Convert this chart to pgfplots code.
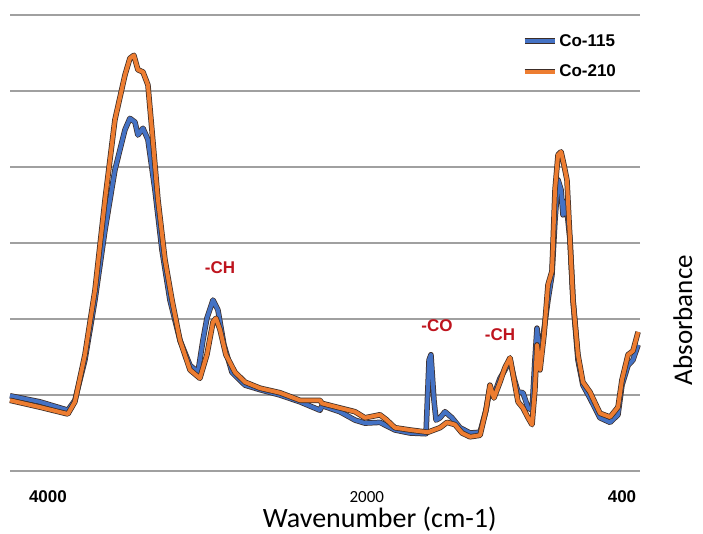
\documentclass[border=0pt]{standalone}
\usepackage{pgfplots}
\pgfplotsset{compat=1.18}
\usepackage{fontspec}
\setmainfont{Liberation Sans}
\newfontfamily\carlito{Carlito}
\definecolor{coblue}{RGB}{68,114,196}
\definecolor{coorange}{RGB}{237,125,49}
\definecolor{peakred}{RGB}{190,20,30}
\definecolor{gridgray}{RGB}{160,160,160}
\definecolor{edge}{RGB}{60,45,40}

\begin{document}
\begin{tikzpicture}
\path (-10pt,-62pt) rectangle (693pt,471pt);
\begin{axis}[
    at={(0pt,0pt)}, anchor=south west,
    scale only axis,
    width=630pt, height=456pt,
    x dir=reverse,
    xmin=287, xmax=4238,
    ymin=0, ymax=0.6,
    axis line style={draw=none},
    ytick={0,0.1,0.2,0.3,0.4,0.5,0.6},
    yticklabels={},
    ymajorgrids,
    grid style={gridgray, line width=1.3pt},
    major tick length=0pt,
    xtick={400,2000,4000},
    xticklabels={\textbf{400},{\carlito 2000},\textbf{4000}},
    xticklabel style={anchor=center, inner sep=0pt, yshift=-26pt, font=\fontsize{17}{19}\selectfont},
    xlabel={Wavenumber (cm-1)},
    xlabel style={at={(axis description cs:0.587,-0.123)}, anchor=base, inner sep=0pt, font=\carlito\fontsize{28}{30}\selectfont},
    ylabel={Absorbance},
    ylabel style={at={(axis description cs:1.068,0.331)}, anchor=center, inner sep=0pt, rotate=0, font=\carlito\fontsize{27}{29}\selectfont},
    legend style={at={(axis description cs:0.812,0.962)}, anchor=north west, draw=none, fill=none,
        font=\bfseries\fontsize{17}{19}\selectfont, row sep=13pt, inner sep=0pt},
    legend cell align=left,
    legend image code/.code={\draw[#1, line width=4pt] (0pt,0pt) -- (30pt,0pt);},
    clip=false,
]
\addplot[coblue, line width=4pt, line join=round, preaction={draw=edge, line width=5.5pt}] coordinates {
(4238,0.099) (4050,0.091) (3875,0.080) (3831,0.093) (3768,0.146) (3705,0.225)
(3642,0.317) (3580,0.396) (3517,0.449) (3486,0.464) (3454,0.459) (3436,0.442)
(3404,0.451) (3373,0.436) (3329,0.370) (3285,0.291) (3235,0.225) (3172,0.172)
(3109,0.139) (3059,0.130) (3028,0.172) (3003,0.201) (2965,0.225) (2934,0.212)
(2896,0.166) (2846,0.130) (2764,0.113) (2670,0.107) (2545,0.100) (2419,0.091)
(2294,0.080) (2281,0.086) (2169,0.078) (2074,0.067) (2012,0.063) (1918,0.064)
(1824,0.054) (1730,0.050) (1629,0.049) (1610,0.146) (1598,0.153) (1579,0.093)
(1566,0.067) (1541,0.070) (1510,0.078) (1466,0.070) (1416,0.057) (1353,0.050)
(1290,0.051) (1253,0.080) (1228,0.109) (1203,0.100) (1165,0.122) (1134,0.133)
(1102,0.146) (1077,0.122) (1052,0.104) (1021,0.103) (989,0.083) (964,0.080)
(946,0.146) (933,0.188) (914,0.146) (889,0.186) (864,0.225) (839,0.258)
(820,0.330) (801,0.383) (782,0.370) (770,0.337) (751,0.355) (726,0.304)
(707,0.225) (676,0.146) (645,0.113) (601,0.096) (538,0.070) (475,0.064)
(425,0.074) (400,0.113) (362,0.139) (331,0.146) (299,0.166)
};
\addlegendentry{Co-115}
\addplot[coorange, line width=4pt, line join=round, preaction={draw=edge, line width=5.5pt}] coordinates {
(4238,0.093) (4050,0.084) (3875,0.075) (3831,0.091) (3768,0.153) (3705,0.238)
(3642,0.357) (3580,0.462) (3517,0.521) (3486,0.543) (3461,0.547) (3436,0.528)
(3404,0.525) (3373,0.508) (3348,0.449) (3310,0.357) (3266,0.278) (3222,0.225)
(3172,0.172) (3109,0.133) (3047,0.122) (3003,0.153) (2965,0.196) (2946,0.201)
(2921,0.186) (2884,0.153) (2827,0.130) (2764,0.117) (2670,0.109) (2545,0.103)
(2419,0.093) (2294,0.093) (2281,0.089) (2169,0.083) (2074,0.078) (2012,0.070)
(1918,0.074) (1880,0.068) (1824,0.057) (1730,0.054) (1617,0.051) (1541,0.057)
(1497,0.064) (1447,0.061) (1403,0.050) (1353,0.045) (1290,0.047) (1253,0.080)
(1228,0.113) (1203,0.096) (1165,0.117) (1134,0.136) (1102,0.149) (1077,0.120)
(1052,0.091) (1021,0.083) (989,0.070) (964,0.061) (946,0.107) (933,0.166)
(914,0.133) (889,0.179) (864,0.245) (839,0.263) (820,0.370) (801,0.416)
(782,0.420) (764,0.403) (745,0.383) (726,0.304) (707,0.225) (676,0.153)
(645,0.117) (601,0.104) (538,0.076) (475,0.071) (425,0.084) (400,0.120)
(362,0.153) (331,0.158) (299,0.183)
};
\addlegendentry{Co-210}
\node[peakred, font=\bfseries\fontsize{17}{19}\selectfont] at (axis cs:2921,0.267) {-CH};
\node[peakred, font=\bfseries\fontsize{17}{19}\selectfont] at (axis cs:1560,0.191) {-CO};
\node[peakred, font=\bfseries\fontsize{17}{19}\selectfont] at (axis cs:1165,0.180) {-CH};
\end{axis}
\end{tikzpicture}
\end{document}
